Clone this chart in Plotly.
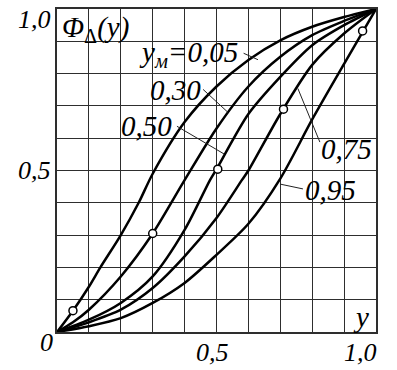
import plotly.graph_objects as go

# ---- data ----
ym_labels = ["y<sub>м</sub>=0,05", "0,30", "0,50", "0,75", "0,95"]

c1_x = [0, 0.05, 0.10, 0.136, 0.20, 0.256, 0.30, 0.40, 0.50, 0.60, 0.70, 0.80, 0.90, 1.0]
c1_y = [0, 0.066, 0.14, 0.20, 0.30, 0.40, 0.49, 0.65, 0.76, 0.842, 0.903, 0.945, 0.975, 1.0]

c2_x = [0, 0.05, 0.10, 0.20, 0.30, 0.40, 0.50, 0.60, 0.70, 0.80, 0.90, 1.0]
c2_y = [0, 0.03, 0.069, 0.172, 0.305, 0.47, 0.63, 0.76, 0.852, 0.919, 0.963, 1.0]

c3_x = [0, 0.10, 0.20, 0.30, 0.40, 0.48, 0.50, 0.60, 0.70, 0.80, 0.90, 1.0]
c3_y = [0, 0.038, 0.09, 0.172, 0.316, 0.471, 0.504, 0.675, 0.79, 0.888, 0.95, 1.0]

c4_x = [0, 0.10, 0.20, 0.30, 0.40, 0.50, 0.58, 0.60, 0.70, 0.80, 0.90, 1.0]
c4_y = [0, 0.03, 0.069, 0.136, 0.234, 0.353, 0.471, 0.50, 0.675, 0.827, 0.924, 1.0]

c5_x = [0, 0.10, 0.20, 0.30, 0.40, 0.50, 0.60, 0.70, 0.80, 0.90, 1.0]
c5_y = [0, 0.018, 0.043, 0.09, 0.152, 0.239, 0.335, 0.475, 0.658, 0.83, 1.0]

mark_x = [0.05, 0.30, 0.504, 0.71, 0.958]
mark_y = [0.066, 0.305, 0.504, 0.69, 0.932]

x_tick_vals = [0.5, 1.0]
x_tick_text = ["0,5", "1,0"]
y_tick_vals = [0.5, 1.0]
y_tick_text = ["0,5", "1,0"]

curves = [(c1_x, c1_y), (c2_x, c2_y), (c3_x, c3_y), (c4_x, c4_y), (c5_x, c5_y)]

FONT = "Liberation Serif"

fig = go.Figure()
for cx, cy in curves:
    fig.add_trace(go.Scatter(x=cx, y=cy, mode="lines",
                             line=dict(color="black", width=2.5, shape="spline", smoothing=0.8),
                             hoverinfo="skip", showlegend=False))
fig.add_trace(go.Scatter(x=mark_x, y=mark_y, mode="markers",
                         marker=dict(size=8, color="white", line=dict(color="black", width=1.5)),
                         showlegend=False, hoverinfo="skip", cliponaxis=False))

axis_common = dict(range=[0, 1], dtick=0.1, tick0=0, showgrid=True, gridcolor="#2e2e2e",
                   gridwidth=1.4, zeroline=False, showline=True, linecolor="#2e2e2e",
                   linewidth=1.6, mirror=True, showticklabels=False, ticks="", fixedrange=True)
fig.update_xaxes(**axis_common)
fig.update_yaxes(**axis_common)

# the axes span the whole plotting area with range [0, 1], so paper units equal data units
ann = []
for v, t in zip(y_tick_vals, y_tick_text):
    yy = v if v < 1 else 0.969
    ann.append(dict(x=-0.012, y=yy, text=f"<i>{t}</i>", xanchor="right", yanchor="middle"))
for v, t in zip(x_tick_vals, x_tick_text):
    xx = v - 0.011 if v < 1 else v - 0.05
    ann.append(dict(x=xx, y=-0.116, text=f"<i>{t}</i>", xanchor="center", yanchor="bottom"))
ann.append(dict(x=-0.034, y=-0.034, text="<i>0</i>", xanchor="center", yanchor="middle"))
for a in ann:
    a.update(xref="paper", yref="paper", showarrow=False,
             font=dict(family=FONT, size=26, color="black"))

inner = [
    dict(x=0.009, y=0.938, text="<i>Φ</i><sub>Δ</sub><i>(y)</i>", xanchor="left"),
    dict(x=0.251, y=0.862, text=f"<i>{ym_labels[0]}</i>", xanchor="left"),
    dict(x=0.37, y=0.748, text=f"<i>{ym_labels[1]}</i>", xanchor="center"),
    dict(x=0.279, y=0.637, text=f"<i>{ym_labels[2]}</i>", xanchor="center"),
    dict(x=0.909, y=0.566, text=f"<i>{ym_labels[3]}</i>", xanchor="center"),
    dict(x=0.856, y=0.44, text=f"<i>{ym_labels[4]}</i>", xanchor="center"),
    dict(x=0.953, y=0.046, text="<i>y</i>", xanchor="center"),
]
for a in inner:
    a.update(xref="paper", yref="paper", yanchor="middle", showarrow=False,
             font=dict(family=FONT, size=29, color="black"))
ann += inner

leaders = [
    ((0.585, 0.863), (0.63, 0.843)),
    ((0.458, 0.751), (0.536, 0.68)),
    ((0.376, 0.637), (0.524, 0.551)),
    ((0.755, 0.754), (0.824, 0.588)),
    ((0.699, 0.458), (0.771, 0.443)),
]
shapes = [dict(type="line", xref="x", yref="y", x0=a[0], y0=a[1], x1=b[0], y1=b[1],
               line=dict(color="#222", width=1)) for a, b in leaders]

fig.update_layout(width=397, height=370, margin=dict(l=57, r=21, t=7, b=38),
                  plot_bgcolor="white", paper_bgcolor="white",
                  annotations=ann, shapes=shapes, showlegend=False)

fig.write_html("out.html", config={"displayModeBar": False})
